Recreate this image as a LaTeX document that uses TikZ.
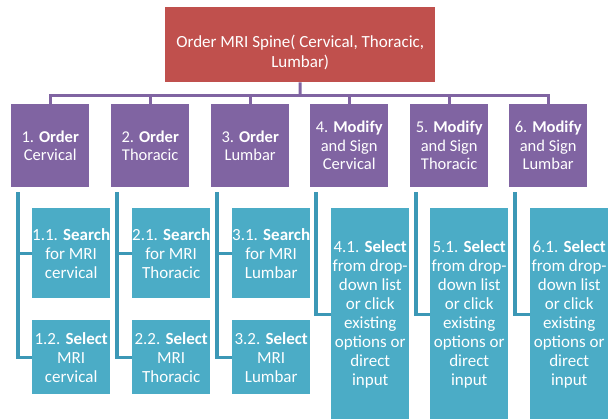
\documentclass[tikz,border=0pt]{standalone}
\usepackage{fontspec}
\setmainfont{Carlito}
\usepackage{tikz}
\definecolor{smred}{RGB}{192,80,77}
\definecolor{smpurple}{RGB}{128,100,162}
\definecolor{smteal}{RGB}{75,172,198}
\definecolor{smline}{RGB}{60,152,182}
\tikzstyle{topbox} = [draw=none,fill=smred,anchor=north west,inner sep=0pt,minimum width=270pt,minimum height=75pt]
\tikzstyle{toptext} = [text=white,inner sep=0pt,align=center,font=\fontsize{17}{19.5}\selectfont]
\tikzstyle{stepbox} = [draw=none,fill=smpurple,text=white,anchor=north west,inner sep=0pt,minimum width=78pt,minimum height=83pt,align=center,font=\fontsize{16.5}{18.5}\selectfont]
\tikzstyle{taskbox} = [draw=none,fill=smteal,text=white,anchor=north west,inner sep=0pt,minimum width=78pt,align=center,font=\fontsize{17}{19}\selectfont]
\tikzstyle{link} = [line width=3pt,color=smpurple]
\tikzstyle{sublink} = [line width=3.2pt,color=smline]

\begin{document}
\begin{tikzpicture}[x=1pt,y=-1pt]
\useasboundingbox[fill=white] (0,0) rectangle (608,418);

% Root
\node[topbox] (root) at (165,7) {};
\node[toptext] (roottitle) at ([yshift=-8pt]root.center) {Order MRI Spine( Cervical, Thoracic,\\Lumbar)};

% Steps
\node[stepbox] (o1) at (11,104) {1. \textbf{Order}\\Cervical};
\node[stepbox] (o2) at (111,104) {2. \textbf{Order}\\Thoracic};
\node[stepbox] (o3) at (211,104) {3. \textbf{Order}\\Lumbar};
\node[stepbox] (o4) at (310,104) {4. \textbf{Modify}\\and Sign\\Cervical};
\node[stepbox] (o5) at (410,104) {5. \textbf{Modify}\\and Sign\\Thoracic};
\node[stepbox] (o6) at (509,104) {6. \textbf{Modify}\\and Sign\\Lumbar};

% Links from root
\coordinate (bus) at (300,95);
\draw[link] (root.south) -- (bus);
\draw[link] (bus) -| (o1.north);
\draw[link] (bus) -| (o2.north);
\draw[link] (bus) -| (o3.north);
\draw[link] (bus) -| (o4.north);
\draw[link] (bus) -| (o5.north);
\draw[link] (bus) -| (o6.north);

% Tasks
\node[taskbox,minimum height=90pt] (s11) at (32,208) {1.1. \textbf{Search}\\for MRI\\cervical};
\node[taskbox,minimum height=74pt] (s12) at (32,320) {1.2. \textbf{Select}\\MRI\\cervical};
\node[taskbox,minimum height=90pt] (s21) at (132,208) {2.1. \textbf{Search}\\for MRI\\Thoracic};
\node[taskbox,minimum height=74pt] (s22) at (132,320) {2.2. \textbf{Select}\\MRI\\Thoracic};
\node[taskbox,minimum height=90pt] (s31) at (232,208) {3.1. \textbf{Search}\\for MRI\\Lumbar};
\node[taskbox,minimum height=74pt] (s32) at (232,320) {3.2. \textbf{Select}\\MRI\\Lumbar};
\node[taskbox,minimum height=212pt] (s41) at (331,208) {4.1. \textbf{Select}\\from drop-\\down list\\or click\\existing\\options or\\direct\\input};
\node[taskbox,minimum height=212pt] (s51) at (430,208) {5.1. \textbf{Select}\\from drop-\\down list\\or click\\existing\\options or\\direct\\input};
\node[taskbox,minimum height=212pt] (s61) at (530,208) {6.1. \textbf{Select}\\from drop-\\down list\\or click\\existing\\options or\\direct\\input};

% Links from steps
\coordinate (c1) at (18,192);
\coordinate (c2) at (117,192);
\coordinate (c3) at (217,192);
\coordinate (c4) at (316,192);
\coordinate (c5) at (416,192);
\coordinate (c6) at (515,192);
\draw[sublink] (c1) |- (s11.west);
\draw[sublink] (c1) |- (s12.west);
\draw[sublink] (c2) |- (s21.west);
\draw[sublink] (c2) |- (s22.west);
\draw[sublink] (c3) |- (s31.west);
\draw[sublink] (c3) |- (s32.west);
\draw[sublink] (c4) |- (s41.west);
\draw[sublink] (c5) |- (s51.west);
\draw[sublink] (c6) |- (s61.west);
\end{tikzpicture}
\end{document}
